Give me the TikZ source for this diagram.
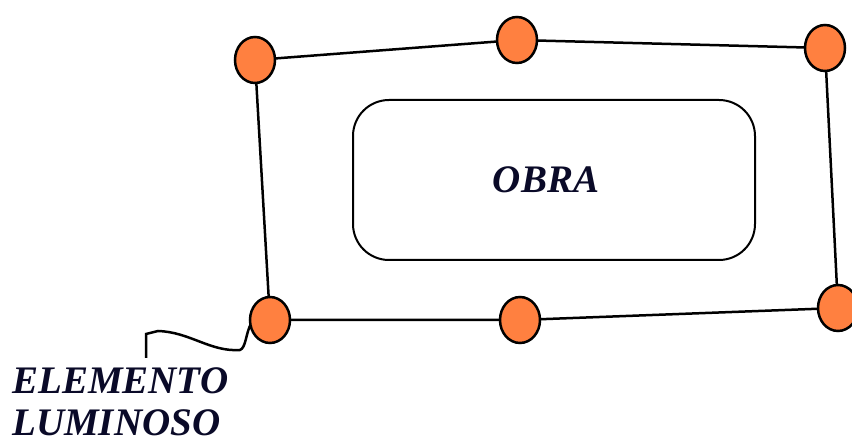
\documentclass[tikz,border=0pt]{standalone}
\usepackage{fontspec}
\usetikzlibrary{shapes.geometric}
\setmainfont{Liberation Serif}
\definecolor{lamp}{HTML}{FF8040}
\definecolor{ink}{HTML}{0A0A28}
\begin{document}
\begin{tikzpicture}[x=1pt,y=-1pt,
  lampnode/.style={ellipse, draw=black, line width=2.5pt, fill=lamp, minimum width=40pt, minimum height=46pt, inner sep=0pt},
  wire/.style={line width=2.5pt, black},
  lbl/.style={font=\fontsize{39}{42}\selectfont\bfseries\itshape, text=ink, inner sep=0pt}]
\useasboundingbox (0,0) rectangle (852,443);
\node[draw, line width=2pt, rounded corners=36pt, minimum width=402pt, minimum height=160pt] (obra) at (554,180) {};
\node[lbl, anchor=base] (obratxt) at (546,193) {OBRA};
\coordinate (tl) at (255,60);
\coordinate (tm) at (517,40);
\coordinate (tr) at (825,48);
\coordinate (bl) at (270,320);
\coordinate (bm) at (520,320);
\coordinate (br) at (838,308);
\coordinate (wend) at (146,358);
\draw[wire] (tl) -- (tm) -- (tr) -- (br) -- (bm) -- (bl) -- cycle;
\draw[wire] (wend) -- (146,334) -- (158,331) .. controls (190,332) and (210,352) .. (240,350) .. controls (246,348) and (246,332) .. (251,324);
\node[lampnode] (ntl) at (tl) {};
\node[lampnode] (ntm) at (tm) {};
\node[lampnode] (ntr) at (tr) {};
\node[lampnode] (nbl) at (bl) {};
\node[lampnode] (nbm) at (bm) {};
\node[lampnode] (nbr) at (br) {};
\node[lbl, anchor=base west] (el1) at (12,394) {ELEMENTO};
\node[lbl, anchor=base west] (el2) at (12,436) {LUMINOSO};
\end{tikzpicture}
\end{document}
